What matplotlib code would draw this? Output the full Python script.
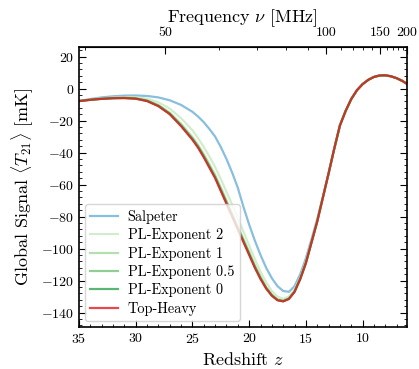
import matplotlib
matplotlib.use("Agg")
import matplotlib.pyplot as plt
from matplotlib.ticker import MultipleLocator

plt.rcParams['font.family'] = 'serif'
plt.rcParams['font.serif'] = ['cmr10']
plt.rcParams['mathtext.fontset'] = 'cm'
plt.rcParams['axes.formatter.use_mathtext'] = True

# redshift grid shared by all curves
z = [35, 34, 33, 32, 31, 30, 29, 28, 27, 26, 25,
     24.5, 24, 23.5, 23, 22.5, 22, 21.5, 21, 20.5, 20,
     19.5, 19, 18.5, 18, 17.5, 17, 16.5, 16, 15.5, 15,
     14.5, 14, 13.5, 13, 12.5, 12, 11.5, 11, 10.5, 10,
     9.5, 9, 8.5, 8, 7.5, 7, 6.5, 6.1]

salpeter = [-7.8, -6.5, -5.5, -4.8, -4.4, -4.3, -4.6, -5.5, -7.3, -10.2, -14.5,
            -17.5, -21.0, -25.3, -30.0, -36.5, -44.0, -52.5, -62.0, -74.0, -85.0,
            -95.0, -104.0, -112.0, -118.5, -123.5, -126.5, -127.0, -123.5, -116.0, -106.0,
            -94.0, -81.5, -67.5, -53.0, -37.5, -23.0, -14.0, -6.5, -1.0, 2.8,
            5.5, 7.3, 8.2, 8.3, 7.7, 6.5, 4.8, 3.0]

pl_exp2 = [-7.8, -6.9, -6.1, -5.6, -5.3, -5.4, -6.3, -8.5, -12.5, -18.5, -26.0,
           -31.0, -36.5, -42.5, -49.0, -56.5, -64.5, -72.5, -81.0, -89.5, -98.0,
           -106.5, -114.5, -121.0, -126.5, -130.0, -131.3, -130.0, -125.5, -118.0, -108.0,
           -95.5, -82.5, -68.0, -53.0, -37.5, -23.0, -14.0, -6.5, -1.0, 2.8,
           5.5, 7.3, 8.2, 8.3, 7.7, 6.5, 4.8, 3.0]

pl_exp1 = [-7.8, -7.0, -6.3, -5.9, -5.7, -6.0, -7.3, -10.2, -15.0, -22.0, -30.3,
           -35.2, -41.0, -47.3, -54.0, -61.8, -69.8, -78.0, -86.0, -94.0, -102.0,
           -110.3, -117.5, -124.0, -128.7, -131.7, -132.4, -131.0, -126.7, -118.8, -108.8,
           -95.9, -83.0, -68.0, -53.0, -37.5, -23.0, -14.0, -6.5, -1.0, 2.8,
           5.5, 7.3, 8.2, 8.3, 7.7, 6.5, 4.8, 3.0]

pl_exp05 = [-7.8, -7.0, -6.35, -5.95, -5.8, -6.15, -7.55, -10.6, -15.5, -22.8, -31.2,
            -36.1, -42.0, -48.4, -55.0, -62.9, -70.9, -79.0, -87.0, -95.0, -103.0,
            -111.2, -118.3, -124.5, -129.1, -132.0, -132.7, -131.3, -126.9, -118.9, -108.9,
            -96.0, -83.0, -68.0, -53.0, -37.5, -23.0, -14.0, -6.5, -1.0, 2.8,
            5.5, 7.3, 8.2, 8.3, 7.7, 6.5, 4.8, 3.0]

pl_exp0 = [-7.8, -7.0, -6.4, -6.0, -5.9, -6.25, -7.7, -10.8, -15.8, -23.2, -31.6,
           -36.6, -42.5, -49.0, -55.5, -63.5, -71.5, -79.5, -87.5, -95.5, -103.5,
           -111.6, -118.7, -124.8, -129.3, -132.2, -132.9, -131.4, -127.0, -119.0, -109.0,
           -96.0, -83.0, -68.0, -53.0, -37.5, -23.0, -14.0, -6.5, -1.0, 2.8,
           5.5, 7.3, 8.2, 8.3, 7.7, 6.5, 4.8, 3.0]

top_heavy = [-7.8, -7.0, -6.4, -6.0, -5.9, -6.3, -7.8, -11.0, -16.0, -23.5, -32.0,
             -37.0, -43.0, -49.5, -56.0, -64.0, -72.0, -80.0, -88.0, -96.0, -104.0,
             -112.0, -119.0, -125.0, -129.5, -132.3, -133.0, -131.5, -127.0, -119.0, -109.0,
             -96.0, -83.0, -68.0, -53.0, -37.5, -23.0, -14.0, -6.5, -1.0, 2.8,
             5.5, 7.3, 8.2, 8.3, 7.7, 6.5, 4.8, 3.0]

labels = ['Salpeter', 'PL-Exponent 2', 'PL-Exponent 1', 'PL-Exponent 0.5',
          'PL-Exponent 0', 'Top-Heavy']
colors = ['#6baed6', '#c7e9c0', '#a1d99b', '#74c476', '#31a354', '#e31a1c']

nu_major = [50, 100, 150, 200]
nu_minor = [40, 60, 70, 80, 90, 110, 120, 130, 140, 160, 170, 180, 190]
nu21 = 1420.405751


def z2nu(zz):
    return nu21 / (1 + zz)


def nu2z(nu):
    return nu21 / nu - 1


fig = plt.figure(figsize=(4.19, 3.69), dpi=100)
ax = fig.add_axes([0.1885, 0.1138, 0.7825, 0.7588])

series = [salpeter, pl_exp2, pl_exp1, pl_exp05, pl_exp0, top_heavy]
for vals, lab, col in zip(series, labels, colors):
    ax.plot(z, vals, color=col, lw=1.6, alpha=0.8, label=lab)

ax.set_xlim(35, nu2z(200))
ax.set_ylim(-149, 26)
ax.set_xlabel(r'Redshift $z$', fontsize=13)
ax.set_ylabel(r'Global Signal $\langle T_{21}\rangle$ [mK]', fontsize=13)
ax.xaxis.set_major_locator(MultipleLocator(5))
ax.xaxis.set_minor_locator(MultipleLocator(1))
ax.yaxis.set_major_locator(MultipleLocator(20))
ax.yaxis.set_minor_locator(MultipleLocator(4))
ax.tick_params(which='both', direction='in', top=False, right=True, labelsize=10)
ax.tick_params(which='major', length=5)
ax.tick_params(which='minor', length=2.5)
for s in ax.spines.values():
    s.set_linewidth(1.2)

sec = ax.secondary_xaxis('top', functions=(z2nu, nu2z))
sec.set_xticks(nu_major)
sec.set_xticklabels([str(v) for v in nu_major])
sec.set_xticks(nu_minor, minor=True)
sec.tick_params(which='both', direction='in', labelsize=10, pad=5.5)
sec.tick_params(which='major', length=5)
sec.tick_params(which='minor', length=2.5)
sec.set_xlabel(r'Frequency $\nu$ [MHz]', fontsize=13)

ax.legend(loc='lower left', fontsize=10.3, framealpha=0.8, handlelength=1.9,
          handletextpad=0.7, labelspacing=0.3, borderaxespad=0.4)

fig.savefig('out.png', dpi=100)
